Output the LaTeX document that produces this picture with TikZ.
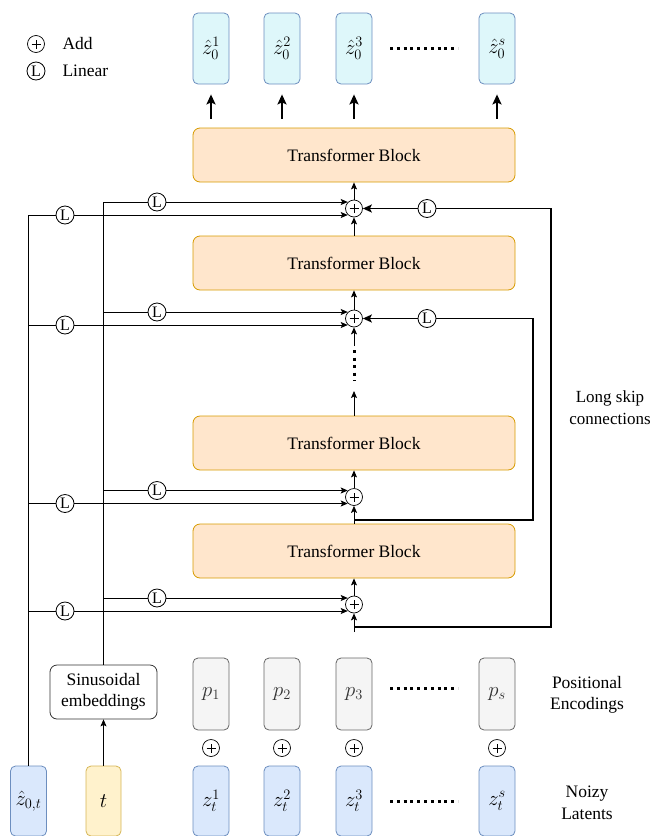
\documentclass[tikz,border=0pt]{standalone}
\usepackage{fontspec}
\setmainfont{Liberation Serif}
\usetikzlibrary{arrows.meta,calc}
\definecolor{outfill}{RGB}{222,247,250}
\definecolor{zfill}{RGB}{218,232,252}
\definecolor{zdraw}{RGB}{108,142,191}
\definecolor{bfill}{RGB}{255,230,204}
\definecolor{bdraw}{RGB}{215,155,0}
\definecolor{tfill}{RGB}{255,242,204}
\definecolor{tdraw}{RGB}{214,182,86}
\definecolor{pfill}{RGB}{245,245,245}
\definecolor{pdraw}{RGB}{102,102,102}
\definecolor{ptext}{RGB}{51,51,51}
\begin{document}
\begin{tikzpicture}[x=1pt,y=-1pt,
  every node/.style={font=\fontsize{17.5}{21.5}\selectfont},
  mathf/.style={font=\fontsize{20.74}{24}\selectfont},
  outbox/.style={mathf, draw=zdraw, fill=outfill, rounded corners=5, minimum width=36, minimum height=71, inner sep=0, line width=0.8},
  zbox/.style={mathf, draw=zdraw, fill=zfill, rounded corners=5, minimum width=36, minimum height=70, inner sep=0, line width=0.8},
  tbox/.style={mathf, draw=tdraw, fill=tfill, rounded corners=5, minimum width=35, minimum height=70, inner sep=0, line width=0.8},
  pbox/.style={mathf, draw=pdraw, fill=pfill, rounded corners=5, minimum width=36, minimum height=72, inner sep=0, line width=0.8, text=ptext},
  block/.style={draw=bdraw, fill=bfill, rounded corners=7, minimum width=322, minimum height=54, line width=0.8},
  sinbox/.style={draw=black!80, fill=white, rounded corners=7, minimum width=107, minimum height=54, inner sep=0, align=center, line width=0.8},
  addc/.style={circle, draw, minimum size=17, inner sep=0, line width=0.7,
    path picture={\draw[line width=0.7] ([xshift=-4.5pt]path picture bounding box.center) -- ([xshift=4.5pt]path picture bounding box.center) ([yshift=-4.5pt]path picture bounding box.center) -- ([yshift=4.5pt]path picture bounding box.center);}},
  lin/.style={circle, draw, fill=white, minimum size=18, inner sep=0, line width=0.8, font=\fontsize{16}{16}\selectfont},
  thinl/.style={line width=0.8},
  arr/.style={line width=0.8, -{Stealth[length=7pt,width=6pt,inset=1.5pt]}},
  skipl/.style={line width=1.6},
  skiparr/.style={line width=1.6, -{Stealth[length=9pt,width=8pt,inset=2pt]}},
  bigarr/.style={line width=2, -{Stealth[length=10pt,width=9pt,inset=2pt]}},
  dotl/.style={line width=3, dash pattern=on 3pt off 3.8pt},
  dotv/.style={line width=3, dash pattern=on 3pt off 4.5pt},
  lbl/.style={align=center}
]
\useasboundingbox (0,0) rectangle (653,836);

% legend
\node[addc] (la) at (36,44) {};
\node[anchor=west] (lat) at (59,44) {Add};
\node[lin] (ll) at (36,71) {L};
\node[anchor=west] (llt) at (59,71) {Linear};

% outputs
\node[outbox] (o1) at (211,48.5) {$\hat{z}_0^1$};
\node[outbox] (o2) at (282,48.5) {$\hat{z}_0^2$};
\node[outbox] (o3) at (354,48.5) {$\hat{z}_0^3$};
\node[outbox] (os) at (497,48.5) {$\hat{z}_0^s$};
\draw[dotl] (390,48) -- (458,48);

% blocks
\node[block] (b1) at (354,155) {Transformer Block};
\node[block] (b2) at (354,263) {Transformer Block};
\node[block] (b3) at (354,443) {Transformer Block};
\node[block] (b4) at (354,551) {Transformer Block};

% output arrows
\foreach \o in {o1,o2,o3,os}
  \draw[bigarr, shorten <=9pt, shorten >=10pt] (b1.north -| \o.south) -- (\o.south);

% add nodes
\node[addc] (p1) at (354,208.5) {};
\node[addc] (p2) at (354,318.5) {};
\node[addc] (p3) at (354,497) {};
\node[addc] (p4) at (354,604.5) {};

\coordinate (d1) at (354,391);
\coordinate (d2) at (354,346);
\coordinate (in) at (354,632);
\coordinate (s1) at (354,627);
\coordinate (k1) at (551,208.5);
\coordinate (s2) at (354,520);
\coordinate (k2) at (533,318.5);

% vertical flow
\draw[arr] (p1.north) -- (b1.south);
\draw[arr] (b2.north) -- (p1.south);
\draw[arr] (p2.north) -- (b2.south);
\draw[arr] (b3.north) -- (d1);
\draw[dotv] (354,350) -- (354,381);
\draw[arr] (d2) -- (p2.south);
\draw[arr] (p3.north) -- (b3.south);
\draw[arr] (b4.north) -- (p3.south);
\draw[arr] (p4.north) -- (b4.south);
\draw[arr] (in) -- (p4.south);

% long skips
\node[lin] (R1) at (427,208.5) {L};
\node[lin] (R2) at (427,318.5) {L};
\draw[skipl] (s1) -| (k1) -- (R1.east);
\draw[skiparr] (R1.west) -- (p1.east);
\draw[skipl] (s2) -| (k2) -- (R2.east);
\draw[skiparr] (R2.west) -- (p2.east);

% bottom inputs
\node[zbox] (z0t) at (28.5,801) {$\hat{z}_{0,t}$};
\node[tbox] (t) at (103.5,801) {$t$};
\node[sinbox] (sin) at (103.5,692) {Sinusoidal\\embeddings};
\draw[arr] (t.north) -- (sin.south);

\foreach \n/\x/\k in {1/211/1,2/282/2,3/354/3,s/497/s}{
  \node[zbox] (zb\n) at (\x,801) {$z_t^{\k}$};
  \node[pbox] (pb\n) at (\x,694) {$p_{\k}$};
  \node[addc] (q\n) at (\x,748) {};
}
\draw[dotl] (390,688) -- (458,688);
\draw[dotl] (390,801) -- (458,801);

% left conditioning lines
\node[lin] (Li1) at (157,202) {L};
\node[lin] (Lo1) at (65,215) {L};
\node[lin] (Li2) at (157,312) {L};
\node[lin] (Lo2) at (65,325) {L};
\node[lin] (Li3) at (157,490.5) {L};
\node[lin] (Lo3) at (65,503.5) {L};
\node[lin] (Li4) at (157,598) {L};
\node[lin] (Lo4) at (65,611) {L};

\draw[thinl] (sin.north) |- (Li1.west);
\draw[thinl] (z0t.north) |- (Lo1.west);
\foreach \r in {2,3,4}{
  \draw[thinl] (sin.north |- Li\r) -- (Li\r.west);
  \draw[thinl] (z0t.north |- Lo\r) -- (Lo\r.west);
}
\draw[arr] (Li1.east) -- (Li1 -| p1.135);
\draw[arr] (Lo1.east) -- (Lo1 -| p1.225);
\draw[arr] (Li2.east) -- (Li2 -| p2.135);
\draw[arr] (Lo2.east) -- (Lo2 -| p2.225);
\draw[arr] (Li3.east) -- (Li3 -| p3.135);
\draw[arr] (Lo3.east) -- (Lo3 -| p3.225);
\draw[arr] (Li4.east) -- (Li4 -| p4.135);
\draw[arr] (Lo4.east) -- (Lo4 -| p4.225);

% labels
\node[lbl, font=\fontsize{17}{21.5}\selectfont] (lsk) at (610,407.5) {Long skip\\connections};
\node[lbl] (lpe) at (587,695) {Positional\\Encodings};
\node[lbl] (lnl) at (587,803) {Noizy\\Latents};
\end{tikzpicture}
\end{document}
